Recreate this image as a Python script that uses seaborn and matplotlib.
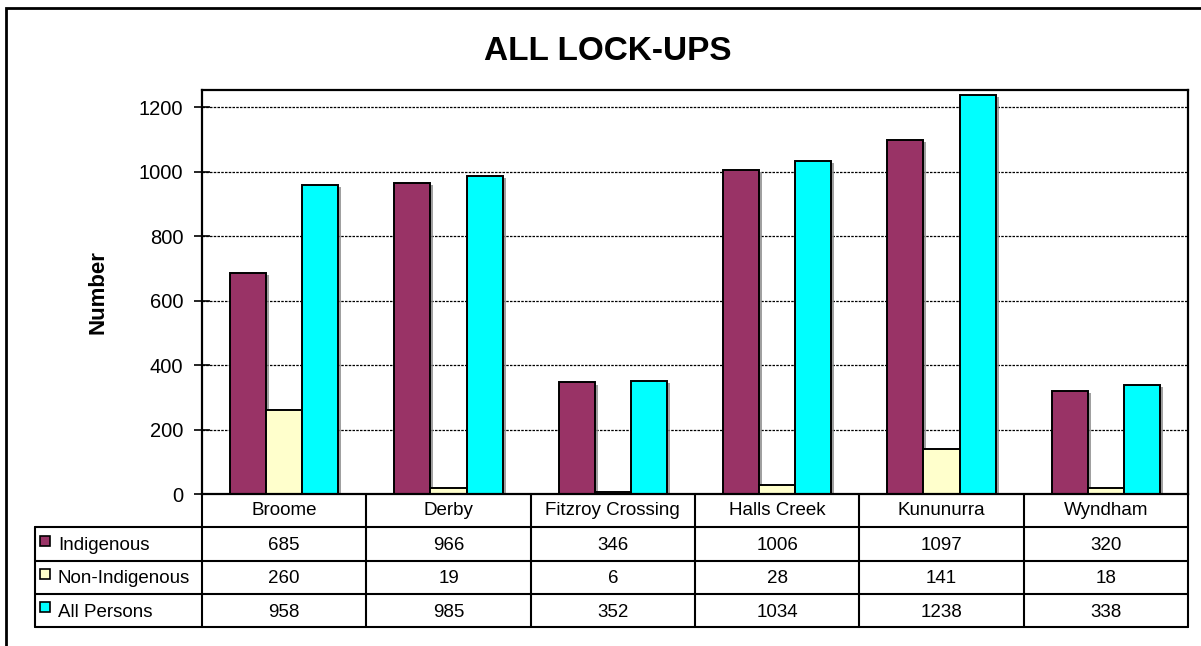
import pandas as pd
import matplotlib.pyplot as plt
import matplotlib.patheffects as pe
from matplotlib.patches import Rectangle
import seaborn as sns

# Dữ liệu
places = ["Broome", "Derby", "Fitzroy Crossing", "Halls Creek", "Kununurra", "Wyndham"]
series = ["Indigenous", "Non-Indigenous", "All Persons"]
indigenous = [685, 966, 346, 1006, 1097, 320]
non_indigenous = [260, 19, 6, 28, 141, 18]
all_persons = [958, 985, 352, 1034, 1238, 338]
colors = ["#993366", "#FFFFCC", "#00FFFF"]
yticks = [0, 200, 400, 600, 800, 1000, 1200]

values = [indigenous, non_indigenous, all_persons]
df = pd.DataFrame({
    "Place": places * 3,
    "Series": [s for s in series for _ in places],
    "Number": indigenous + non_indigenous + all_persons,
})

sns.set_style("white")
plt.rcParams["font.family"] = ["Liberation Sans", "DejaVu Sans"]
plt.rcParams.update({"text.color": "black", "axes.labelcolor": "black",
                     "xtick.color": "black", "ytick.color": "black"})

W, H = 1201, 646
fig = plt.figure(figsize=(W / 100, H / 100), dpi=100)

# --------- Biểu đồ cột ---------
ax = fig.add_axes([202 / W, 1 - 494 / H, 986 / W, (494 - 90) / H])
sns.barplot(data=df, x="Place", y="Number", hue="Series", order=places,
            hue_order=series, palette=colors, width=0.66, edgecolor="black",
            linewidth=1.4, saturation=1, legend=False, ax=ax)
for p in ax.patches:
    p.set_path_effects([pe.SimplePatchShadow(offset=(2, -1.5), shadow_rgbFace="#888888", alpha=0.8),
                        pe.Normal()])
ax.set_xlim(-0.5, 5.5)
ax.set_ylim(0, 1253)
ax.set_yticks(yticks)
ax.set_yticklabels([str(t) for t in yticks], fontsize=14.5)
ax.set_xticks([])
ax.set_xlabel("")
ax.set_ylabel("Number", fontsize=16, fontweight="bold", labelpad=22)
ax.tick_params(axis="y", direction="inout", length=11, width=1.2, pad=8, left=True)
for t in yticks[1:]:
    ax.axhline(t, color="black", linewidth=0.9, linestyle=(0, (2, 1)), zorder=0.5)
for s in ax.spines.values():
    s.set_linewidth(1.6)
    s.set_color("black")

fig.text(608 / W, 1 - 52 / H, "ALL LOCK-UPS", ha="center", va="center",
         fontsize=24, fontweight="bold")

# --------- Bảng số liệu ---------
tax = fig.add_axes([35 / W, 1 - 627 / H, (1188 - 35) / W, (627 - 494) / H])
left = -0.5 - (202 - 35) / (986 / 6)
tax.set_xlim(left, 5.5)
tax.set_ylim(4, 0)
tax.axis("off")
lw = 1.5
for i in range(7):
    tax.plot([i - 0.5, i - 0.5], [0, 4], color="black", lw=lw, clip_on=False)
for r in range(1, 5):
    tax.plot([left, 5.5], [r, r], color="black", lw=lw, clip_on=False)
tax.plot([left, left], [1, 4], color="black", lw=lw, clip_on=False)
for i, name in enumerate(places):
    tax.text(i, 0.5, name, ha="center", va="center", fontsize=13.5)
unit = 986 / 6
for r, (name, vals, c) in enumerate(zip(series, values, colors), start=1):
    tax.plot([left + 10 / unit], [r + 0.4], marker="s", markersize=6.5,
             markerfacecolor=c, markeredgecolor="black", markeredgewidth=1.2, clip_on=False)
    tax.text(left + 23 / unit, r + 0.55, name, ha="left", va="center", fontsize=13.5)
    for i, v in enumerate(vals):
        tax.text(i, r + 0.55, str(v), ha="center", va="center", fontsize=13.5)

# Khung ngoài
fig.patches.append(Rectangle((6 / W, -0.05), 1.1, 1 - 8 / H + 0.05, transform=fig.transFigure,
                             fill=False, edgecolor="black", linewidth=2, clip_on=False))

plt.savefig("out.png", dpi=100)
